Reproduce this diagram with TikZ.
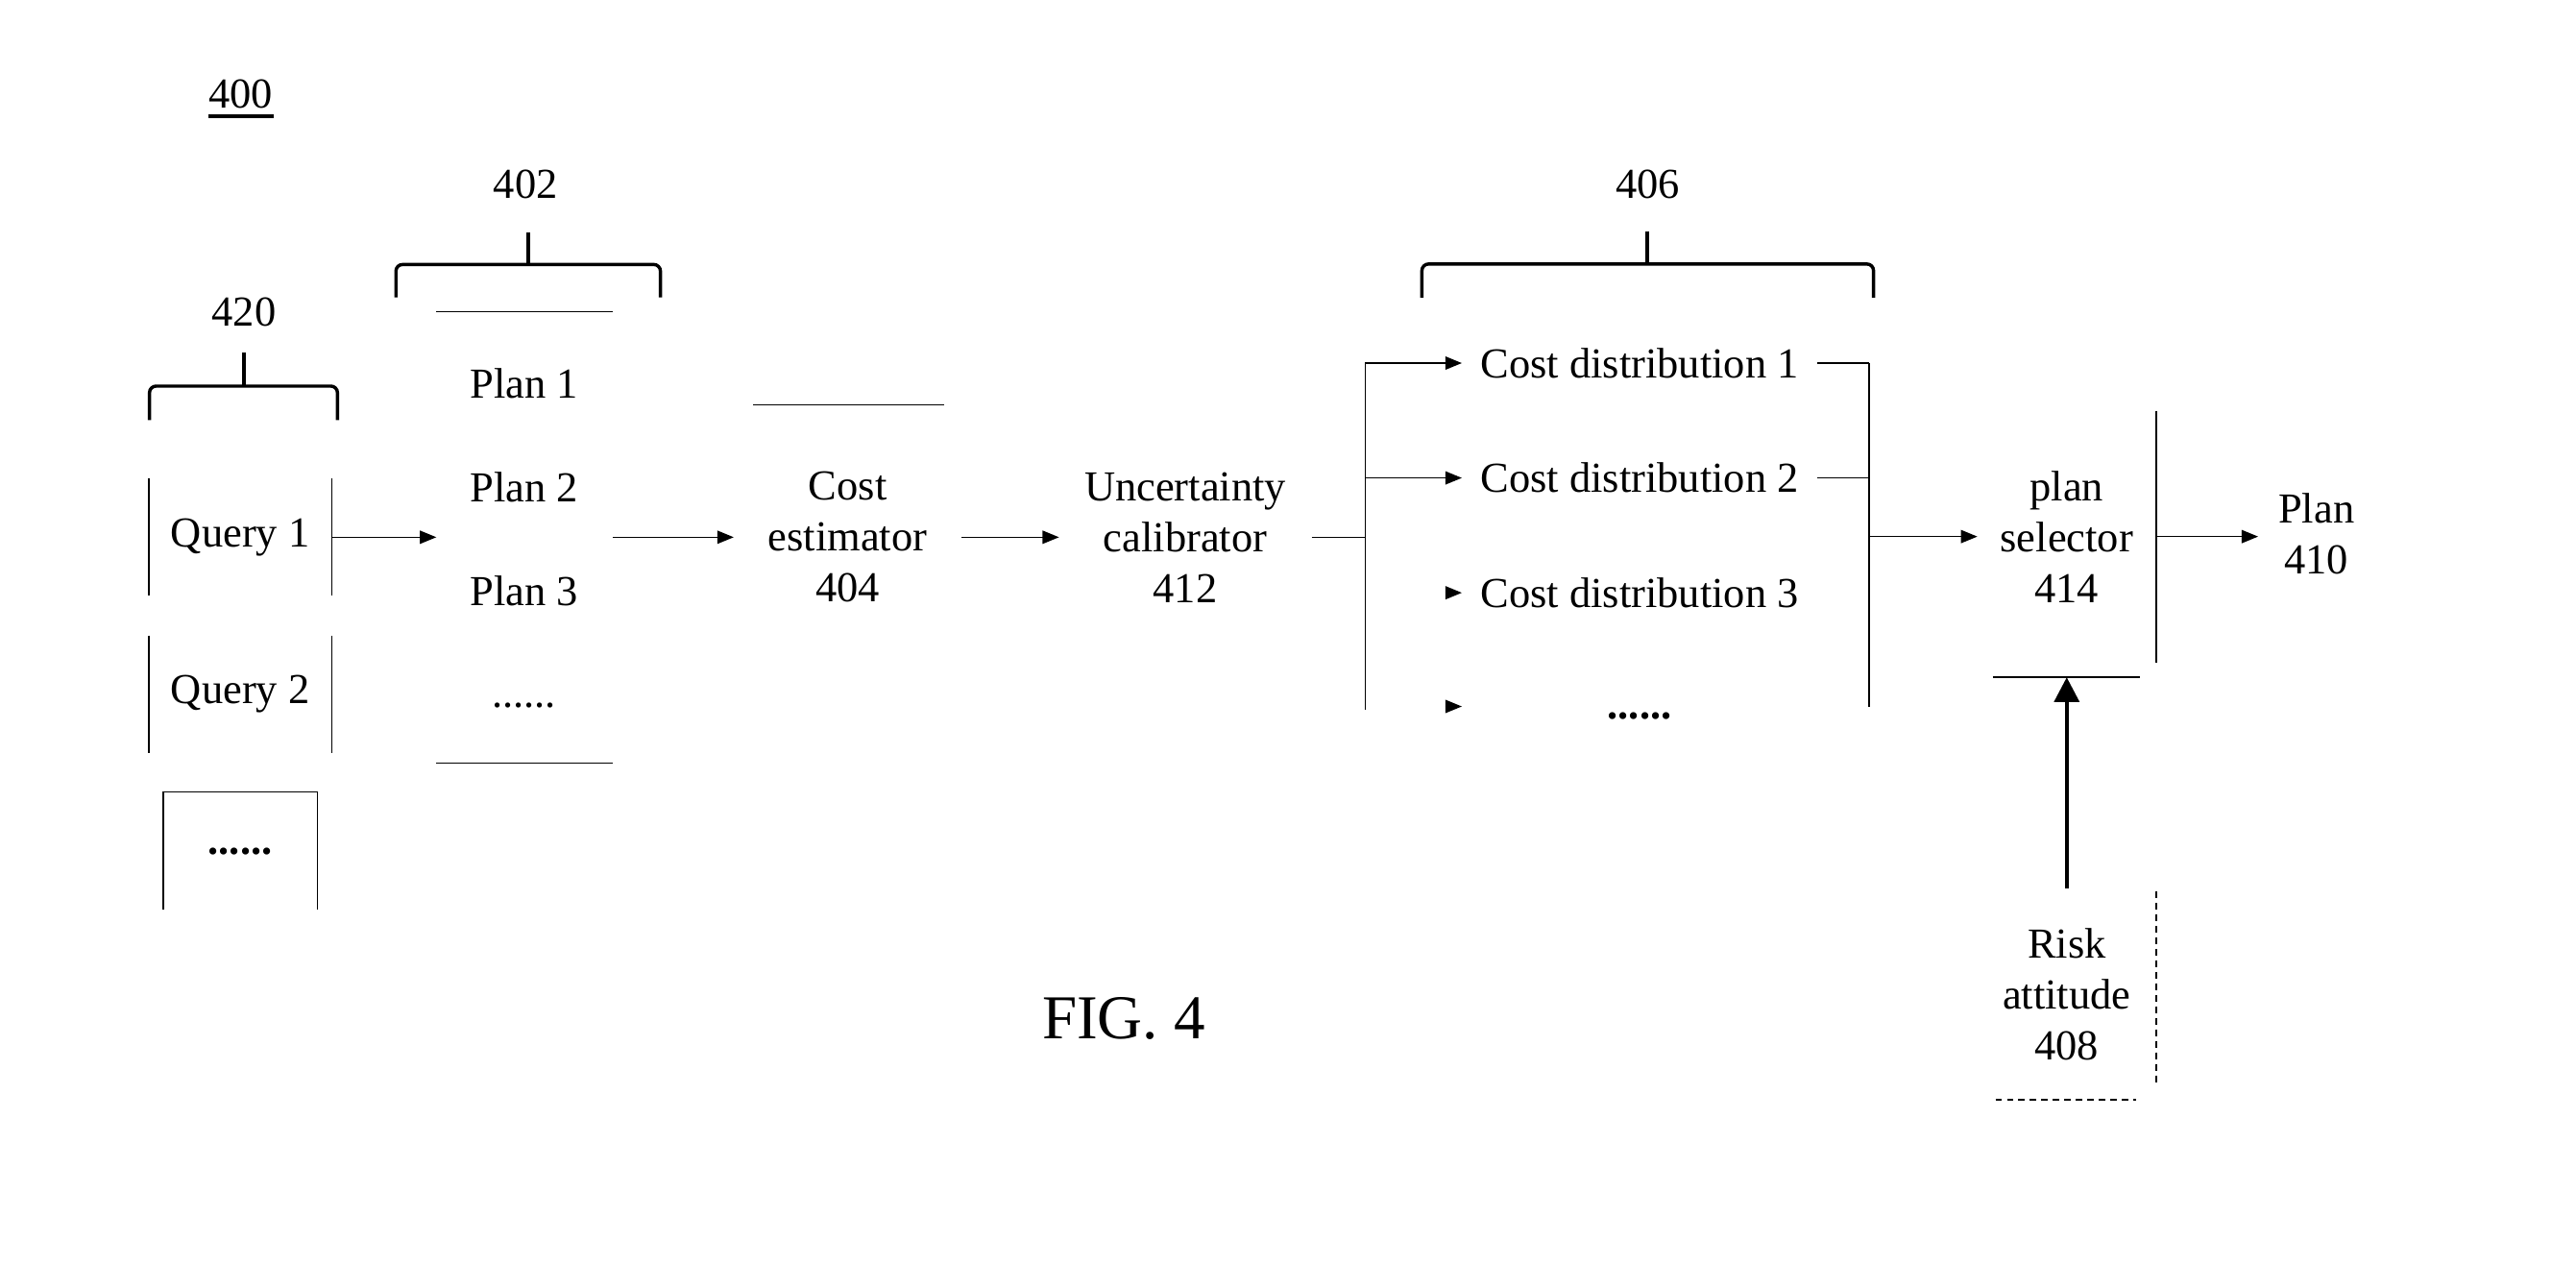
\documentclass[tikz,border=0pt]{standalone}
\usepackage{fontspec}
\setmainfont{Liberation Serif}
\usetikzlibrary{arrows.meta}

\begin{document}
\begin{tikzpicture}[x=1pt, y=-1pt, thick, node distance=63pt,
    font=\fontsize{26}{31}\selectfont,
    >={Triangle[length=10pt, width=8pt]},
    brk/.style={line width=2pt, rounded corners=4pt},
    qbox/.style={minimum width=110.5pt, minimum height=70.5pt, inner sep=0pt},
    blk/.style={align=center, inner sep=0pt},
    cdist/.style={anchor=west, inner xsep=11pt, inner ysep=0pt},
    dashline/.style={dash pattern=on 4pt off 3pt}]
    \useasboundingbox (0,0) rectangle (1568,769);

    % reference numerals and brackets
    \node[anchor=base, inner xsep=0pt, inner ysep=4pt] (n400) at (146.5,66) {400};
    \draw[line width=2pt] (n400.south west) -- (n400.south east);
    \node (n420) at (148.5,190) {420};
    \node (n402) at (320,112) {402};
    \node (n406) at (1003,112) {406};
    \draw[brk] (91,255.7) -- (91,235) -- (205.4,235) -- (205.4,255.7);
    \draw[brk] (148.5,214.5) -- (148.5,235);
    \draw[brk] (241,181) -- (241,161) -- (402,161) -- (402,181);
    \draw[brk] (321.6,141.6) -- (321.6,161);
    \draw[brk] (865.5,181.2) -- (865.5,160.7) -- (1140.4,160.7) -- (1140.4,181.2);
    \draw[brk] (1002.6,140.7) -- (1002.6,160.7);

    % queries
    \node[qbox] (q1) at (146.3,327) {Query 1};
    \node[qbox] (q2) at (146.3,422.5) {Query 2};
    \node[qbox, minimum width=93pt, minimum height=71pt] (q3) at (146.2,518) {\textbf{......}};
    \draw (q1.north west) -- (q1.south west) (q1.north east) -- (q1.south east);
    \draw (q2.north west) -- (q2.south west) (q2.north east) -- (q2.south east);
    \draw (q3.south west) -- (q3.north west) -- (q3.north east) -- (q3.south east);

    % plans
    \node[minimum width=106.5pt, minimum height=274pt, inner sep=0pt] (plans) at (319.25,327) {};
    \draw (plans.north west) -- (plans.north east) (plans.south west) -- (plans.south east);
    \node (p1) at (319,233.5) {Plan 1};
    \node (p2) [below of=p1] {Plan 2};
    \node (p3) [below of=p2] {Plan 3};
    \node (p4) [below of=p3, node distance=70pt] {......};

    % estimator and calibrator
    \node[blk, minimum width=138pt, minimum height=160pt] (est) at (516,327) {Cost\\estimator\\404};
    \draw ([xshift=12pt]est.north west) -- ([xshift=-11pt]est.north east);
    \node[blk, minimum width=153pt, minimum height=176pt] (cal) at (721.5,327) {Uncertainty\\calibrator\\412};

    % cost distributions
    \coordinate (bt) at (831,221);
    \coordinate (bb) at (831,431.8);
    \coordinate (rt) at (1137.7,221);
    \coordinate (rb) at (1137.7,430);
    \coordinate (a4) at (889.8,430);
    \node[cdist] (cd1) at (889.8,221) {Cost distribution 1};
    \node[cdist] (cd2) at (889.8,290.9) {Cost distribution 2};
    \node[cdist] (cd3) at (889.8,360.8) {Cost distribution 3};
    \node (cd4) at (998,436) {\textbf{......}};
    \draw (bt) -- (bb) (rt) -- (rb);
    \draw[->] (cd1.west -| bt) -- (cd1.west);
    \draw[->] (cd2.west -| bt) -- (cd2.west);
    \draw[->] ([xshift=-10pt]cd3.west) -- (cd3.west);
    \draw[->] ([xshift=-10pt]a4) -- (a4);
    \draw (cd1.east) -- (cd1.east -| rt);
    \draw (cd2.east) -- (cd2.east -| rt);

    % selector, output and risk
    \node[blk, minimum width=108pt, minimum height=170.5pt] (ps) at (1258,326.6) {plan\\selector\\414};
    \draw ([yshift=-9pt]ps.north east) -- ([yshift=9pt]ps.south east);
    \draw ([xshift=9.5pt]ps.south west) -- ([xshift=-10pt]ps.south east);
    \node[blk, inner xsep=12pt] (out) at (1410,325) {Plan\\410};
    \node[blk, minimum width=108pt, minimum height=128pt] (ra) at (1258,605) {Risk\\attitude\\408};
    \draw[dashline] ([yshift=-2pt]ra.north east) -- ([yshift=8pt]ra.south east);
    \draw[dashline] ([xshift=11pt]ra.south west) -- ([xshift=-12pt]ra.south east);

    % flow
    \draw[->] (q1.east) -- (plans.west);
    \draw[->] (plans.east) -- (est.west);
    \draw[->] (est.east) -- (cal.west);
    \draw (cal.east) -- (cal.east -| bt);
    \draw[->] (ps.west -| rt) -- (ps.west);
    \draw[->] (ps.east) -- (ps.east -| out.west);
    \draw[line width=2.4pt, -{Triangle[length=15pt, width=15pt]}] (ra.north) -- (ps.south);

    \node[font=\fontsize{38}{44}\selectfont] (fig) at (684,620) {FIG. 4};
\end{tikzpicture}
\end{document}
